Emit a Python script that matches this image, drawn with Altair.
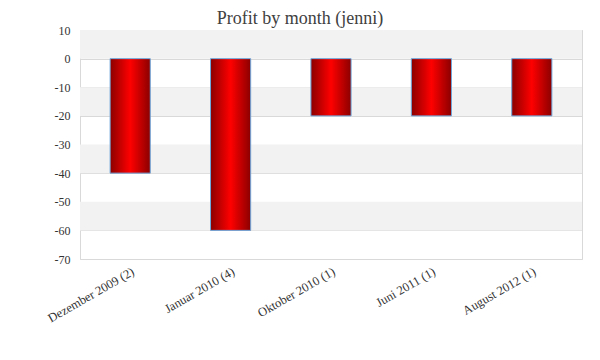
import altair as alt
import pandas as pd

months = ["Dezember 2009 (2)", "Januar 2010 (4)", "Oktober 2010 (1)", "Juni 2011 (1)", "August 2012 (1)"]
profit = [-40, -60, -20, -20, -20]

band_top = [10, -10, -30, -50]
band_bottom = [0, -20, -40, -60]
y_ticks = [10, 0, -10, -20, -30, -40, -50, -60, -70]

df = pd.DataFrame({"month": months, "profit": profit})
bands = pd.DataFrame({"top": band_top, "bottom": band_bottom})

FONT = "Liberation Serif"
W, H = 502, 229

yscale = alt.Scale(domain=[-70, 10], nice=False)
yaxis = alt.Axis(title=None, values=y_ticks, ticks=False, labelOverlap=False,
                 labelExpr="datum.value < 0 ? '-' + abs(datum.value) : '' + datum.value",
                 domain=False, gridColor="#d9d9d9", labelFont=FONT,
                 labelFontSize=12, labelColor="#333333", labelPadding=10)

band_layer = alt.Chart(bands).mark_rect(color="#f2f2f2").encode(
    y=alt.Y("top:Q", scale=yscale, axis=yaxis),
    y2="bottom:Q",
    x=alt.value(0),
    x2=alt.value(W),
)

grad = alt.LinearGradient(
    gradient="linear",
    stops=[
        alt.GradientStop(color="#8b0000", offset=0),
        alt.GradientStop(color="#ff0000", offset=0.5),
        alt.GradientStop(color="#8b0000", offset=1),
    ],
    x1=0, x2=1, y1=0, y2=0,
)

bars = alt.Chart(df).mark_bar(color=grad, stroke="#6fa8dc", strokeWidth=1).encode(
    x=alt.X("month:N", sort=months,
            scale=alt.Scale(paddingInner=0.6, paddingOuter=0.3),
            axis=alt.Axis(title=None, labelAngle=-30, labelAlign="right", labelBaseline="top",
                          ticks=False, domain=False, labelFont=FONT, labelFontSize=12.5,
                          labelColor="#333333", labelPadding=6)),
    y=alt.Y("profit:Q", scale=yscale, axis=yaxis),
    y2=alt.datum(0),
)

chart = alt.layer(band_layer, bars).properties(
    width=W, height=H,
    title=alt.TitleParams("Profit by month  (jenni)", font=FONT, fontSize=18,
                          fontWeight="normal", color="#404040", anchor="middle", dx=-31, offset=-4),
    autosize=alt.AutoSizeParams(type="none"),
    padding={"left": 72, "top": 22, "right": 10, "bottom": 93},
).configure_view(stroke="#d9d9d9")

chart.save("out.html", embed_options={"renderer": "svg", "actions": False})
